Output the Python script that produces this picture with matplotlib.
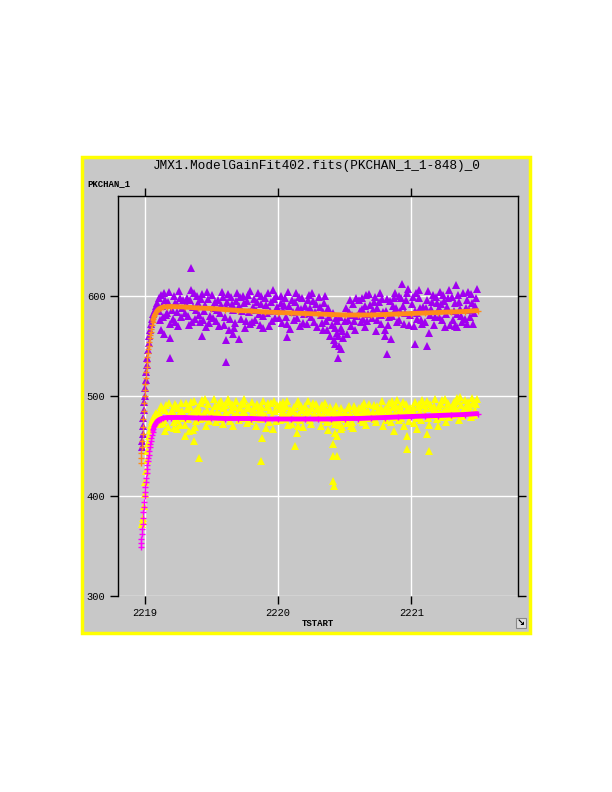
import numpy as np
import matplotlib
matplotlib.use('Agg')
import matplotlib.pyplot as plt
from matplotlib.patches import Rectangle

# Colours
PANEL_GRAY = '#C8C8C8'
BORDER_YELLOW = '#FFFF00'
PURPLE = '#A000F0'
YELLOW = '#FFFF00'
ORANGE = '#FF8C1A'
MAGENTA = '#FF00FF'

MONO = ['Liberation Mono', 'DejaVu Sans Mono']

# Fit curves (orange = upper fit, magenta = lower fit), shared time axis
fit_time = [2218.970, 2218.973, 2218.976, 2218.979, 2218.982, 2218.985, 2218.988, 2218.991,
            2218.994, 2218.997, 2219.000, 2219.003, 2219.006, 2219.009, 2219.012, 2219.015,
            2219.018, 2219.021, 2219.024, 2219.027, 2219.030, 2219.034, 2219.038, 2219.042,
            2219.046, 2219.050, 2219.055, 2219.060, 2219.066, 2219.073, 2219.080, 2219.092,
            2219.105, 2219.120, 2219.140, 2219.170, 2219.200,
            2219.300, 2219.400, 2219.500, 2219.600, 2219.700, 2219.800, 2219.900, 2220.000,
            2220.100, 2220.200, 2220.300, 2220.400, 2220.500, 2220.600, 2220.700, 2220.800,
            2220.900, 2221.000, 2221.100, 2221.200, 2221.300, 2221.400, 2221.500]
fit_upper = [433, 438, 443, 449, 455, 462, 469, 477, 485, 493, 500, 506, 512, 518, 524, 529,
             534, 539, 543, 547, 550, 554, 558, 561, 564, 567, 571, 574, 577, 580, 582, 585,
             587, 588, 589, 589.5, 589.5,
             589, 588, 587.5, 586.5, 585.5, 585, 584, 583.5,
             583, 582.5, 582, 581.5, 581, 581, 581, 581.5,
             582, 582.5, 583, 583.5, 584, 584.5, 585.5]
fit_lower = [349, 353, 357, 362, 367, 372, 378, 384, 389, 394, 400, 404, 409, 414, 418, 423,
             427, 431, 435, 438, 441, 445, 449, 452, 455, 458, 461, 464, 467, 470, 472, 474.5,
             476, 477, 478, 478.5, 478.5,
             478.5, 478, 478, 477.5, 477.5, 477.5, 477, 477,
             477, 477, 477, 477, 477.5, 477.5, 478, 478.5,
             479, 479.5, 480, 480.5, 481, 481.5, 482.5]
fit_line_start = 27  # beyond this index the '+' marks merge into a solid band

# Upper channel data (purple triangles)
purple_x = [
    2218.978, 2218.982, 2218.985, 2218.988, 2218.991, 2218.994, 2218.997, 2219.000,
    2219.004, 2219.008, 2219.012, 2219.016, 2219.020, 2219.025, 2219.030, 2219.036,
    2219.042, 2219.050, 2219.058, 2219.066, 2219.075, 2219.085, 2219.095,
    2219.105, 2219.118, 2219.130, 2219.145, 2219.158, 2219.172, 2219.188,
    2219.204, 2219.217, 2219.231, 2219.246, 2219.259, 2219.273, 2219.290,
    2219.303, 2219.316, 2219.332, 2219.345, 2219.361, 2219.374, 2219.389,
    2219.402, 2219.418, 2219.430, 2219.447, 2219.460, 2219.476, 2219.491,
    2219.505, 2219.519, 2219.533, 2219.548, 2219.562, 2219.577, 2219.592,
    2219.604, 2219.620, 2219.633, 2219.648, 2219.664, 2219.677, 2219.694,
    2219.706, 2219.721, 2219.735, 2219.749, 2219.764, 2219.780, 2219.793,
    2219.803, 2219.818, 2219.832, 2219.847, 2219.862, 2219.875, 2219.891,
    2219.906, 2219.920, 2219.934, 2219.950, 2219.963, 2219.979, 2219.993,
    2220.004, 2220.019, 2220.033, 2220.046, 2220.062, 2220.077, 2220.090,
    2220.106, 2220.120, 2220.133, 2220.149, 2220.162, 2220.178, 2220.192,
    2220.203, 2220.218, 2220.232, 2220.247, 2220.261, 2220.276, 2220.290,
    2220.305, 2220.319, 2220.334, 2220.348, 2220.361, 2220.377, 2220.391,
    2220.404, 2220.418, 2220.432, 2220.445, 2220.460, 2220.474, 2220.490,
    2220.503, 2220.518, 2220.531, 2220.547, 2220.560, 2220.576, 2220.590,
    2220.606, 2220.620, 2220.633, 2220.649, 2220.662, 2220.678, 2220.692,
    2220.703, 2220.718, 2220.732, 2220.746, 2220.762, 2220.776, 2220.790,
    2220.805, 2220.819, 2220.833, 2220.848, 2220.861, 2220.877, 2220.891,
    2220.904, 2220.918, 2220.931, 2220.946, 2220.960, 2220.975, 2220.990,
    2221.003, 2221.017, 2221.032, 2221.046, 2221.061, 2221.075, 2221.090,
    2221.106, 2221.120, 2221.133, 2221.148, 2221.162, 2221.177, 2221.192,
    2221.204, 2221.218, 2221.232, 2221.246, 2221.260, 2221.276, 2221.290,
    2221.303, 2221.318, 2221.332, 2221.345, 2221.361, 2221.375, 2221.390,
    2221.404, 2221.418, 2221.433, 2221.447, 2221.461, 2221.476, 2221.492,
    # second pass through the band
    2219.108, 2219.125, 2219.139, 2219.156, 2219.170, 2219.184,
    2219.209, 2219.224, 2219.240, 2219.252, 2219.268, 2219.283,
    2219.309, 2219.322, 2219.340, 2219.354, 2219.368, 2219.383,
    2219.408, 2219.424, 2219.438, 2219.453, 2219.469, 2219.484,
    2219.510, 2219.526, 2219.540, 2219.555, 2219.570, 2219.585,
    2219.609, 2219.626, 2219.640, 2219.656, 2219.671, 2219.686,
    2219.713, 2219.728, 2219.742, 2219.757, 2219.772, 2219.787,
    2219.810, 2219.825, 2219.840, 2219.854, 2219.869, 2219.884,
    2219.912, 2219.927, 2219.942, 2219.957, 2219.971, 2219.986,
    2220.011, 2220.026, 2220.040, 2220.054, 2220.069, 2220.084,
    2220.113, 2220.127, 2220.141, 2220.156, 2220.170, 2220.185,
    2220.210, 2220.225, 2220.240, 2220.254, 2220.268, 2220.283,
    2220.312, 2220.327, 2220.341, 2220.355, 2220.369, 2220.384,
    2220.411, 2220.425, 2220.439, 2220.452, 2220.467, 2220.482,
    2220.510, 2220.524, 2220.539, 2220.553, 2220.568, 2220.583,
    2220.613, 2220.627, 2220.641, 2220.655, 2220.670, 2220.685,
    2220.710, 2220.725, 2220.739, 2220.754, 2220.769, 2220.783,
    2220.812, 2220.826, 2220.840, 2220.854, 2220.869, 2220.884,
    2220.911, 2220.924, 2220.938, 2220.953, 2220.968, 2220.982,
    2221.010, 2221.024, 2221.039, 2221.054, 2221.068, 2221.082,
    2221.113, 2221.127, 2221.140, 2221.155, 2221.170, 2221.184,
    2221.211, 2221.225, 2221.239, 2221.253, 2221.268, 2221.283,
    2221.310, 2221.325, 2221.339, 2221.353, 2221.368, 2221.383,
    2221.411, 2221.425, 2221.440, 2221.454, 2221.469, 2221.484,
    # outliers
    2219.350, 2219.190, 2219.190, 2219.430, 2219.610, 2219.610, 2219.710, 2219.660,
    2220.070, 2220.450, 2220.470, 2220.430, 2220.820, 2220.800, 2221.030, 2221.120,
    2221.330, 2221.420, 2219.120, 2219.145,
]
purple_y = [
    449, 455, 462, 470, 478, 486, 494, 500,
    508, 516, 524, 531, 538, 546, 553, 560,
    566, 572, 577, 582, 586, 590, 593,
    598, 576, 590, 603, 581, 594, 572,
    586, 600, 574, 592, 605, 579, 596,
    583, 598, 571, 606, 589, 577, 600,
    593, 574, 602, 585, 569, 597, 580,
    601, 588, 575, 596, 583, 604, 571,
    579, 594, 566, 599, 586, 573, 603,
    590, 577, 600, 568, 595, 584, 605,
    574, 597, 586, 603, 571, 592, 580,
    598, 583, 570, 594, 606, 578, 589,
    585, 600, 573, 591, 579, 604, 567,
    596, 576, 603, 588, 570, 598, 582,
    590, 572, 601, 579, 595, 584, 569,
    599, 581, 566, 593, 575, 588, 560,
    571, 556, 578, 563, 550, 568, 558,
    575, 562, 584, 570, 592, 566, 580,
    596, 574, 587, 569, 601, 582, 591,
    578, 594, 565, 588, 603, 572, 584,
    566, 597, 579, 557, 590, 603, 574,
    600, 585, 612, 572, 596, 607, 581,
    592, 570, 603, 583, 598, 576, 589,
    574, 596, 563, 587, 601, 579, 593,
    588, 604, 576, 595, 582, 598, 571,
    599, 585, 611, 569, 594, 580, 603,
    577, 596, 586, 602, 572, 590, 607,
    # second pass through the band
    585, 601, 579, 596, 583, 604,
    577, 593, 584, 570, 598, 588,
    592, 580, 596, 574, 603, 586,
    581, 597, 576, 591, 604, 573,
    578, 594, 586, 570, 591, 599,
    589, 602, 577, 592, 568, 595,
    599, 585, 593, 575, 601, 572,
    589, 576, 594, 582, 600, 568,
    591, 603, 585, 575, 597, 600,
    578, 593, 586, 598, 572, 590,
    584, 594, 578, 599, 587, 573,
    583, 596, 588, 603, 574, 592,
    589, 573, 584, 600, 566, 579,
    583, 568, 575, 560, 579, 565,
    588, 576, 596, 581, 575, 598,
    585, 598, 577, 590, 575, 602,
    586, 599, 576, 594, 581, 597,
    585, 571, 595, 580, 598, 588,
    576, 598, 590, 583, 603, 571,
    599, 585, 577, 606, 588, 572,
    588, 605, 581, 594, 571, 599,
    579, 592, 601, 569, 589, 606,
    576, 593, 582, 601, 587, 574,
    588, 604, 579, 593, 583, 598,
    # outliers
    628, 558, 538, 560, 556, 534, 557, 562,
    559, 538, 547, 552, 542, 560, 552, 550,
    570, 572, 566, 562,
]

# Lower channel data (yellow triangles)
yellow_x = [
    2218.980, 2218.984, 2218.988, 2218.995, 2219.000, 2219.005, 2219.010, 2219.015,
    2219.020, 2219.026, 2219.032, 2219.040, 2219.048, 2219.056, 2219.065, 2219.075,
    2219.085,
    2219.104, 2219.117, 2219.131, 2219.144, 2219.159, 2219.173, 2219.189,
    2219.203, 2219.218, 2219.232, 2219.245, 2219.260, 2219.274, 2219.291,
    2219.304, 2219.317, 2219.331, 2219.346, 2219.360, 2219.375, 2219.388,
    2219.403, 2219.417, 2219.431, 2219.446, 2219.461, 2219.475, 2219.490,
    2219.504, 2219.518, 2219.534, 2219.547, 2219.563, 2219.576, 2219.591,
    2219.605, 2219.619, 2219.634, 2219.647, 2219.663, 2219.678, 2219.693,
    2219.705, 2219.720, 2219.736, 2219.748, 2219.765, 2219.779, 2219.794,
    2219.804, 2219.817, 2219.833, 2219.846, 2219.861, 2219.876, 2219.890,
    2219.905, 2219.921, 2219.935, 2219.949, 2219.964, 2219.978, 2219.992,
    2220.005, 2220.018, 2220.034, 2220.047, 2220.061, 2220.076, 2220.091,
    2220.105, 2220.121, 2220.134, 2220.148, 2220.163, 2220.177, 2220.191,
    2220.204, 2220.217, 2220.233, 2220.246, 2220.262, 2220.275, 2220.291,
    2220.304, 2220.320, 2220.333, 2220.347, 2220.362, 2220.376, 2220.392,
    2220.405, 2220.419, 2220.431, 2220.446, 2220.461, 2220.475, 2220.489,
    2220.504, 2220.517, 2220.532, 2220.546, 2220.561, 2220.575, 2220.591,
    2220.605, 2220.621, 2220.634, 2220.648, 2220.663, 2220.677, 2220.693,
    2220.704, 2220.717, 2220.733, 2220.747, 2220.761, 2220.777, 2220.791,
    2220.804, 2220.820, 2220.834, 2220.847, 2220.862, 2220.876, 2220.892,
    2220.905, 2220.917, 2220.932, 2220.947, 2220.961, 2220.974, 2220.991,
    2221.004, 2221.018, 2221.031, 2221.047, 2221.060, 2221.076, 2221.089,
    2221.105, 2221.121, 2221.134, 2221.147, 2221.163, 2221.176, 2221.191,
    2221.205, 2221.219, 2221.231, 2221.247, 2221.261, 2221.275, 2221.291,
    2221.304, 2221.317, 2221.333, 2221.346, 2221.360, 2221.376, 2221.389,
    2221.405, 2221.419, 2221.432, 2221.446, 2221.462, 2221.477, 2221.493,
    # second pass through the band
    2219.110, 2219.124, 2219.138, 2219.152, 2219.166, 2219.181,
    2219.210, 2219.225, 2219.239, 2219.253, 2219.267, 2219.282,
    2219.310, 2219.324, 2219.339, 2219.353, 2219.367, 2219.381,
    2219.410, 2219.424, 2219.438, 2219.453, 2219.468, 2219.483,
    2219.511, 2219.526, 2219.541, 2219.555, 2219.570, 2219.584,
    2219.612, 2219.627, 2219.641, 2219.655, 2219.670, 2219.686,
    2219.713, 2219.728, 2219.742, 2219.756, 2219.772, 2219.787,
    2219.811, 2219.825, 2219.840, 2219.854, 2219.869, 2219.883,
    2219.913, 2219.928, 2219.942, 2219.956, 2219.971, 2219.985,
    2220.012, 2220.026, 2220.041, 2220.054, 2220.069, 2220.084,
    2220.113, 2220.128, 2220.141, 2220.155, 2220.170, 2220.184,
    2220.211, 2220.225, 2220.240, 2220.254, 2220.269, 2220.283,
    2220.312, 2220.327, 2220.340, 2220.355, 2220.369, 2220.384,
    2220.412, 2220.426, 2220.438, 2220.453, 2220.468, 2220.482,
    2220.511, 2220.524, 2220.539, 2220.553, 2220.568, 2220.583,
    2220.613, 2220.628, 2220.641, 2220.655, 2220.670, 2220.685,
    2220.711, 2220.725, 2220.740, 2220.754, 2220.769, 2220.784,
    2220.812, 2220.827, 2220.841, 2220.855, 2220.869, 2220.884,
    2220.911, 2220.924, 2220.939, 2220.954, 2220.968, 2220.983,
    2221.011, 2221.025, 2221.039, 2221.054, 2221.068, 2221.083,
    2221.113, 2221.128, 2221.141, 2221.155, 2221.170, 2221.184,
    2221.212, 2221.226, 2221.239, 2221.254, 2221.268, 2221.283,
    2221.311, 2221.324, 2221.340, 2221.353, 2221.368, 2221.382,
    2221.412, 2221.426, 2221.440, 2221.454, 2221.469, 2221.485,
    # outliers
    2219.300, 2219.370, 2219.410, 2219.330, 2219.870, 2219.880, 2219.910, 2220.130,
    2220.140, 2220.150, 2220.410, 2220.420, 2220.410, 2220.410, 2220.440, 2220.440,
    2220.470, 2220.550, 2220.870, 2220.970, 2220.970, 2221.130, 2221.120, 2221.040,
    2221.200, 2219.220, 2219.150,
]
yellow_y = [
    372, 378, 375, 390, 402, 414, 425, 436,
    445, 453, 460, 466, 471, 475, 478, 481,
    483,
    484, 472, 488, 476, 491, 469, 481,
    486, 474, 490, 467, 482, 493, 478,
    471, 487, 480, 494, 466, 485, 475,
    489, 477, 496, 483, 470, 492, 480,
    485, 497, 474, 490, 481, 495, 472,
    491, 479, 494, 486, 470, 489, 483,
    476, 492, 484, 497, 473, 488, 480,
    494, 482, 470, 490, 486, 477, 495,
    481, 489, 474, 493, 467, 485, 491,
    487, 476, 494, 482, 490, 471, 486,
    472, 489, 481, 495, 476, 486, 469,
    490, 478, 485, 472, 493, 480, 487,
    483, 470, 491, 477, 486, 466, 489,
    475, 486, 463, 481, 471, 488, 478,
    484, 473, 490, 479, 468, 487, 482,
    488, 476, 483, 493, 471, 485, 480,
    479, 491, 474, 486, 482, 495, 470,
    487, 481, 493, 474, 489, 483, 496,
    476, 490, 484, 470, 492, 481, 488,
    485, 473, 494, 480, 489, 476, 491,
    482, 495, 471, 488, 484, 497, 477,
    490, 479, 496, 485, 474, 493, 487,
    481, 494, 488, 498, 476, 491, 485,
    496, 483, 490, 479, 493, 486, 497,
    # second pass through the band
    478, 490, 473, 486, 480, 493,
    483, 492, 476, 488, 471, 485,
    493, 477, 489, 482, 495, 469,
    484, 493, 478, 497, 486, 475,
    479, 490, 484, 493, 477, 488,
    484, 497, 475, 492, 481, 495,
    488, 478, 493, 483, 490, 475,
    487, 478, 492, 481, 490, 484,
    478, 493, 486, 480, 495, 475,
    492, 481, 488, 477, 495, 483,
    485, 477, 492, 482, 490, 478,
    484, 495, 476, 488, 482, 492,
    478, 488, 482, 493, 474, 484,
    482, 472, 490, 476, 484, 469,
    477, 488, 482, 474, 490, 485,
    481, 490, 474, 486, 478, 492,
    484, 477, 490, 480, 488, 483,
    476, 488, 484, 495, 479, 490,
    485, 478, 494, 482, 487, 475,
    489, 482, 478, 492, 484, 496,
    488, 478, 492, 481, 490, 485,
    484, 492, 481, 497, 488, 479,
    490, 482, 495, 485, 499, 480,
    489, 494, 484, 498, 481, 492,
    # outliers
    460, 455, 438, 465, 435, 458, 468, 450,
    463, 470, 415, 410, 440, 452, 440, 460,
    467, 470, 465, 447, 460, 445, 462, 467,
    470, 468, 465,
]

x_ticks = [2219, 2220, 2221]
y_ticks = [300, 400, 500, 600]

fig = plt.figure(figsize=(6.12, 7.92), dpi=100)

# Gray panel with yellow border (drawn behind the axes)
panel = Rectangle((82 / 612, 1 - 633 / 792), 448 / 612, 476 / 792,
                  transform=fig.transFigure, facecolor=PANEL_GRAY,
                  edgecolor=BORDER_YELLOW, linewidth=2.5, zorder=-1)
fig.patches.append(panel)

ax = fig.add_axes([118 / 612, 1 - 596 / 792, 400 / 612, 400 / 792])
ax.set_zorder(1)
ax.set_facecolor(PANEL_GRAY)

# Data points
ax.plot(purple_x, purple_y, linestyle='none', marker='^', markersize=6,
        color=PURPLE, markeredgewidth=0, zorder=3)
ax.plot(yellow_x, yellow_y, linestyle='none', marker='^', markersize=6,
        color=YELLOW, markeredgewidth=0, zorder=3)

# Fit curves: '+' markers, merging into a solid band on the plateau
ax.plot(fit_time[fit_line_start:], fit_upper[fit_line_start:], color=ORANGE,
        linewidth=3.5, solid_capstyle='butt', zorder=4)
ax.plot(fit_time, fit_upper, linestyle='none', marker='+', markersize=5,
        markeredgewidth=1, color=ORANGE, zorder=4)
ax.plot(fit_time[fit_line_start:], fit_lower[fit_line_start:], color=MAGENTA,
        linewidth=3.5, solid_capstyle='butt', zorder=4)
ax.plot(fit_time, fit_lower, linestyle='none', marker='+', markersize=5,
        markeredgewidth=1, color=MAGENTA, zorder=4)

ax.set_xlim(2218.8, 2221.8)
ax.set_ylim(300, 700)
ax.set_xticks(x_ticks)
ax.set_yticks(y_ticks)
ax.set_xticklabels([str(t) for t in x_ticks], fontfamily=MONO, fontsize=7.5)
ax.set_yticklabels([str(t) for t in y_ticks], fontfamily=MONO, fontsize=7.5)
ax.grid(True, color='white', linewidth=1)
ax.set_axisbelow(True)

for side in ['left', 'top', 'right']:
    ax.spines[side].set_color('black')
    ax.spines[side].set_linewidth(1)
ax.spines['bottom'].set_visible(False)

ax.tick_params(axis='both', direction='out', length=6, width=1, color='black',
               top=True, right=True, labeltop=False, labelright=False, pad=3)

# Titles and axis labels
fig.text(317 / 612, 1 - 166 / 792, 'JMX1.ModelGainFit402.fits(PKCHAN_1_1-848)_0',
         ha='center', va='center', fontfamily=MONO, fontsize=9.2)
fig.text(87 / 612, 1 - 184 / 792, 'PKCHAN_1', ha='left', va='center',
         fontfamily=MONO, fontsize=6.5, fontweight='bold')
fig.text(318 / 612, 1 - 623 / 792, 'TSTART', ha='center', va='center',
         fontfamily=MONO, fontsize=6.5, fontweight='bold')

# Small resize icon in the bottom-right corner
icon = Rectangle((516 / 612, 1 - 628 / 792), 10 / 612, 10 / 792,
                 transform=fig.transFigure, facecolor='#DDDDDD',
                 edgecolor='#888888', linewidth=0.8, zorder=5)
fig.patches.append(icon)
fig.text(521 / 612, 1 - 623 / 792, '\u2198', ha='center', va='center',
         fontfamily='DejaVu Sans', fontsize=7, fontweight='bold', zorder=6)

fig.savefig('out.png', dpi=100)
